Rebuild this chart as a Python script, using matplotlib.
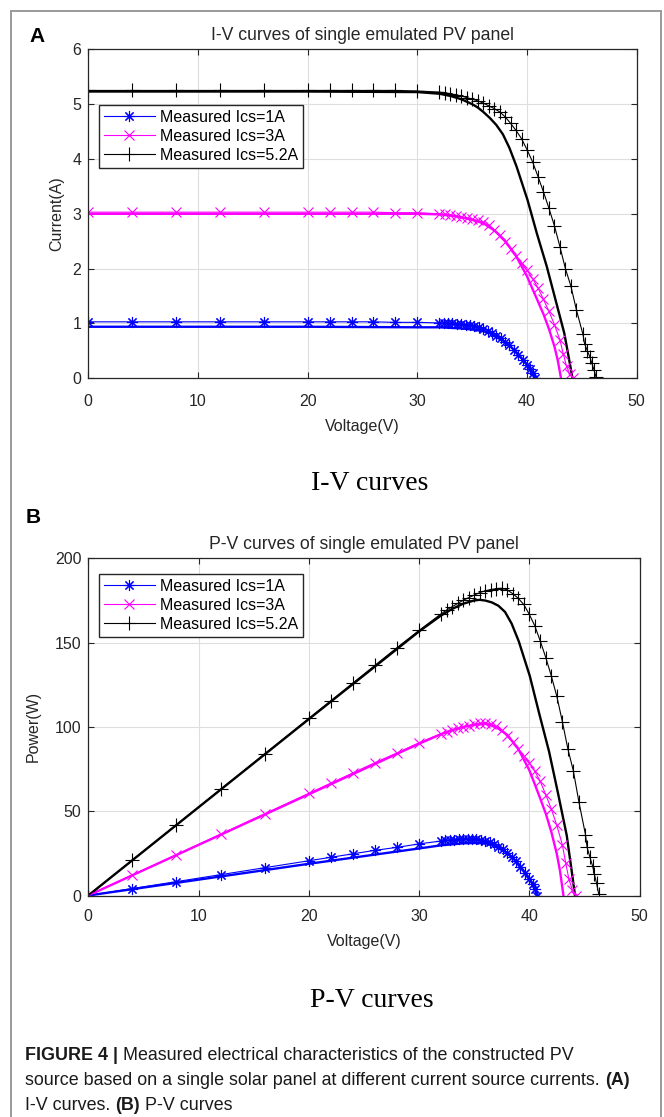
import matplotlib
matplotlib.use('Agg')
import matplotlib.pyplot as plt
import numpy as np
from matplotlib.patches import Rectangle

plt.rcParams['font.family'] = ['Liberation Sans', 'DejaVu Sans']

# ------------------------
# Dados (tensao em V, corrente em A)
# medido, Ics=1A
v_meas_1 = [0, 4, 8, 12, 16, 20, 22, 24, 26, 28, 30, 32, 32.4, 32.8, 33.2, 33.6, 34.0,
            34.4, 34.8, 35.2, 35.6, 36.0, 36.4, 36.8, 37.2, 37.6, 38.0, 38.4, 38.8,
            39.2, 39.6, 40.0, 40.3, 40.5, 40.7]
i_meas_1 = [1.03, 1.03, 1.03, 1.03, 1.03, 1.03, 1.03, 1.03, 1.03, 1.02, 1.02, 1.01, 1.01,
            1.0, 1.0, 0.99, 0.99, 0.98, 0.97, 0.95, 0.93, 0.90, 0.87, 0.83, 0.78, 0.73,
            0.67, 0.60, 0.52, 0.43, 0.34, 0.25, 0.17, 0.09, 0.0]
# simulado (linha grossa), Ics=1A
v_sim_1 = [0, 10, 20, 30, 32, 33, 34, 35, 36, 36.5, 37, 37.5, 38, 38.5, 39, 39.5, 40,
           40.3, 40.6, 40.75]
i_sim_1 = [0.94, 0.94, 0.94, 0.93, 0.93, 0.92, 0.91, 0.89, 0.86, 0.83, 0.79, 0.73, 0.66,
           0.58, 0.48, 0.37, 0.25, 0.17, 0.06, 0.0]

# medido, Ics=3A
v_meas_3 = [0, 4, 8, 12, 16, 20, 22, 24, 26, 28, 30, 32, 32.5, 33, 33.5, 34, 34.5, 35,
            35.5, 36, 36.5, 37, 37.5, 38, 38.5, 39, 39.5, 40, 40.5, 41, 41.5, 42, 42.5,
            43, 43.3, 43.6, 43.9, 44.2]
i_meas_3 = [3.03, 3.03, 3.03, 3.03, 3.03, 3.03, 3.03, 3.03, 3.03, 3.02, 3.02, 3.0, 2.99,
            2.98, 2.96, 2.94, 2.92, 2.90, 2.88, 2.85, 2.79, 2.71, 2.61, 2.49, 2.36, 2.23,
            2.10, 1.97, 1.82, 1.65, 1.44, 1.22, 0.98, 0.70, 0.45, 0.22, 0.08, 0.0]
# simulado, Ics=3A
v_sim_3 = [0, 10, 20, 30, 32, 33, 34, 35, 36, 37, 38, 39, 40, 40.5, 41, 41.5, 42, 42.5,
           42.8, 43.1]
i_sim_3 = [3.0, 3.0, 3.0, 3.0, 2.99, 2.97, 2.94, 2.89, 2.83, 2.70, 2.51, 2.23, 1.86, 1.63,
           1.40, 1.17, 0.90, 0.58, 0.33, 0.0]

# medido, Ics=5.2A
v_meas_52 = [0, 4, 8, 12, 16, 20, 22, 24, 26, 28, 30, 32, 32.5, 33, 33.5, 34, 34.5, 35,
             35.5, 36, 36.5, 37, 37.5, 38, 38.5, 39, 39.5, 40, 40.5, 41, 41.5, 42, 42.5,
             43, 43.5, 44, 44.5, 45.1, 45.25, 45.5, 45.75, 45.9, 46.1, 46.3]
i_meas_52 = [5.25, 5.25, 5.25, 5.25, 5.25, 5.25, 5.25, 5.25, 5.25, 5.25, 5.24, 5.22, 5.21,
             5.19, 5.17, 5.15, 5.12, 5.09, 5.06, 5.02, 4.97, 4.92, 4.86, 4.77, 4.65, 4.52,
             4.37, 4.17, 3.95, 3.68, 3.40, 3.10, 2.78, 2.40, 2.0, 1.68, 1.25, 0.80, 0.63,
             0.50, 0.38, 0.28, 0.16, 0.02]
# simulado, Ics=5.2A
v_sim_52 = [0, 10, 20, 30, 32, 33, 34, 35, 35.5, 36, 36.6, 37.2, 37.8, 38.4, 39.05, 40.05,
            40.9, 41.8, 42.6, 43.4, 43.85, 44.15]
i_sim_52 = [5.23, 5.23, 5.23, 5.22, 5.19, 5.15, 5.09, 5.00, 4.94, 4.86, 4.75, 4.62, 4.45,
            4.20, 3.86, 3.25, 2.64, 2.04, 1.43, 0.82, 0.33, 0.0]

labels = ['Measured Ics=1A', 'Measured Ics=3A', 'Measured Ics=5.2A']
colors = ['#0000ff', '#ff00ff', '#000000']
markers = [(8, 2, 0), 'x', '+']
msizes = [8, 6.5, 10]

meas = [(v_meas_1, i_meas_1), (v_meas_3, i_meas_3), (v_meas_52, i_meas_52)]
sims = [(v_sim_1, i_sim_1), (v_sim_3, i_sim_3), (v_sim_52, i_sim_52)]

W, H = 664, 1117
fig = plt.figure(figsize=(W/100, H/100), dpi=100)
DARK = '#262626'

def px_axes(x0, x1, ytop, ybot):
    return fig.add_axes([x0/W, 1-ybot/H, (x1-x0)/W, (ybot-ytop)/H])

def style(ax, ymax, ystep, xpad):
    ax.set_xlim(0, 50)
    ax.set_ylim(0, ymax)
    ax.set_xticks(np.arange(0, 51, 10))
    ax.set_yticks(np.arange(0, ymax+1e-9, ystep))
    ax.grid(True, color='#dedede', lw=0.8)
    ax.set_axisbelow(True)
    ax.tick_params(direction='in', top=True, right=True, length=4, width=0.8,
                   labelsize=11.5, colors=DARK, labelcolor=DARK)
    ax.tick_params(axis='x', pad=xpad)
    ax.tick_params(axis='y', pad=5)
    for s in ax.spines.values():
        s.set_color(DARK)
        s.set_linewidth(0.9)

def plot_curves(ax, power=False):
    for k in range(3):
        v, i = np.array(sims[k][0]), np.array(sims[k][1])
        y = v*i if power else i
        ax.plot(v, y, color=colors[k], lw=1.7, label='_nolegend_')
    for k in range(3):
        v, i = np.array(meas[k][0]), np.array(meas[k][1])
        y = v*i if power else i
        ax.plot(v, y, color=colors[k], lw=0.8, marker=markers[k], ms=msizes[k],
                mew=0.8, label=labels[k])

# ------------------------
# (A) curvas I-V
axA = px_axes(88.3, 636.7, 49.3, 378.3)
plot_curves(axA)
style(axA, 6, 1, 11)
axA.set_title('I-V curves of single emulated PV panel', fontsize=12.7, pad=7, color=DARK)
axA.set_xlabel('Voltage(V)', fontsize=11.5, color=DARK, labelpad=7.5)
axA.set_ylabel('Current(A)', fontsize=11.5, color=DARK, labelpad=6)
axA.legend(loc='upper left', bbox_to_anchor=((99-88.3)/548.4, (378.3-105)/329),
           fontsize=11.5, fancybox=False, edgecolor=DARK, framealpha=1,
           handlelength=3.2, handletextpad=0.35, labelspacing=0.25, borderpad=0.3,
           borderaxespad=0)

# (B) curvas P-V
axB = px_axes(88.3, 639.5, 558.3, 895.5)
plot_curves(axB, power=True)
style(axB, 200, 50, 9.5)
axB.set_title('P-V curves of single emulated PV panel', fontsize=12.7, pad=7, color=DARK)
axB.set_xlabel('Voltage(V)', fontsize=11.5, color=DARK, labelpad=7.5)
axB.set_ylabel('Power(W)', fontsize=11.5, color=DARK, labelpad=10)
axB.legend(loc='upper left', bbox_to_anchor=((99-88.3)/551.2, (895.5-574)/337.2),
           fontsize=11.5, fancybox=False, edgecolor=DARK, framealpha=1,
           handlelength=3.2, handletextpad=0.35, labelspacing=0.25, borderpad=0.3,
           borderaxespad=0)

# ------------------------
# textos da figura
fig.text(29/W, 1-41.7/H, 'A', fontsize=15, fontweight='bold', va='baseline')
fig.text(26/W, 1-523/H, 'B', fontsize=15, fontweight='bold', va='baseline')
fig.text(370/W, 1-490/H, 'I-V curves', fontsize=20, family='Liberation Serif',
         ha='center', va='baseline')
fig.text(372/W, 1-1006.7/H, 'P-V curves', fontsize=20, family='Liberation Serif',
         ha='center', va='baseline')

# moldura cinza
fig.patches.append(Rectangle((11/W, -0.05), 650/W, 1.05-11/H, transform=fig.transFigure,
                             fill=False, edgecolor='#9a9a9a', lw=1.4))

# legenda da figura (negrito misturado)
cap_size = 12.9
renderer = fig.canvas.get_renderer()
t1 = fig.text(0, 0, 'a a', fontsize=cap_size)
t2 = fig.text(0, 0, 'aa', fontsize=cap_size)
space = t1.get_window_extent(renderer).width - t2.get_window_extent(renderer).width
t1.remove()
t2.remove()

def runs(x, y, parts):
    for s, bold in parts:
        t = fig.text(x/W, 1-y/H, s, fontsize=cap_size, va='baseline', ha='left',
                     fontweight='bold' if bold else 'normal', color='#1a1a1a')
        x = t.get_window_extent(renderer).x1 + space

runs(25, 1060, [('FIGURE 4 |', True), ('Measured electrical characteristics of the constructed PV', False)])
runs(25, 1085, [('source based on a single solar panel at different current source currents.', False), ('(A)', True)])
runs(25, 1110, [('I-V curves.', False), ('(B)', True), ('P-V curves', False)])

fig.savefig('out.png', dpi=100)
